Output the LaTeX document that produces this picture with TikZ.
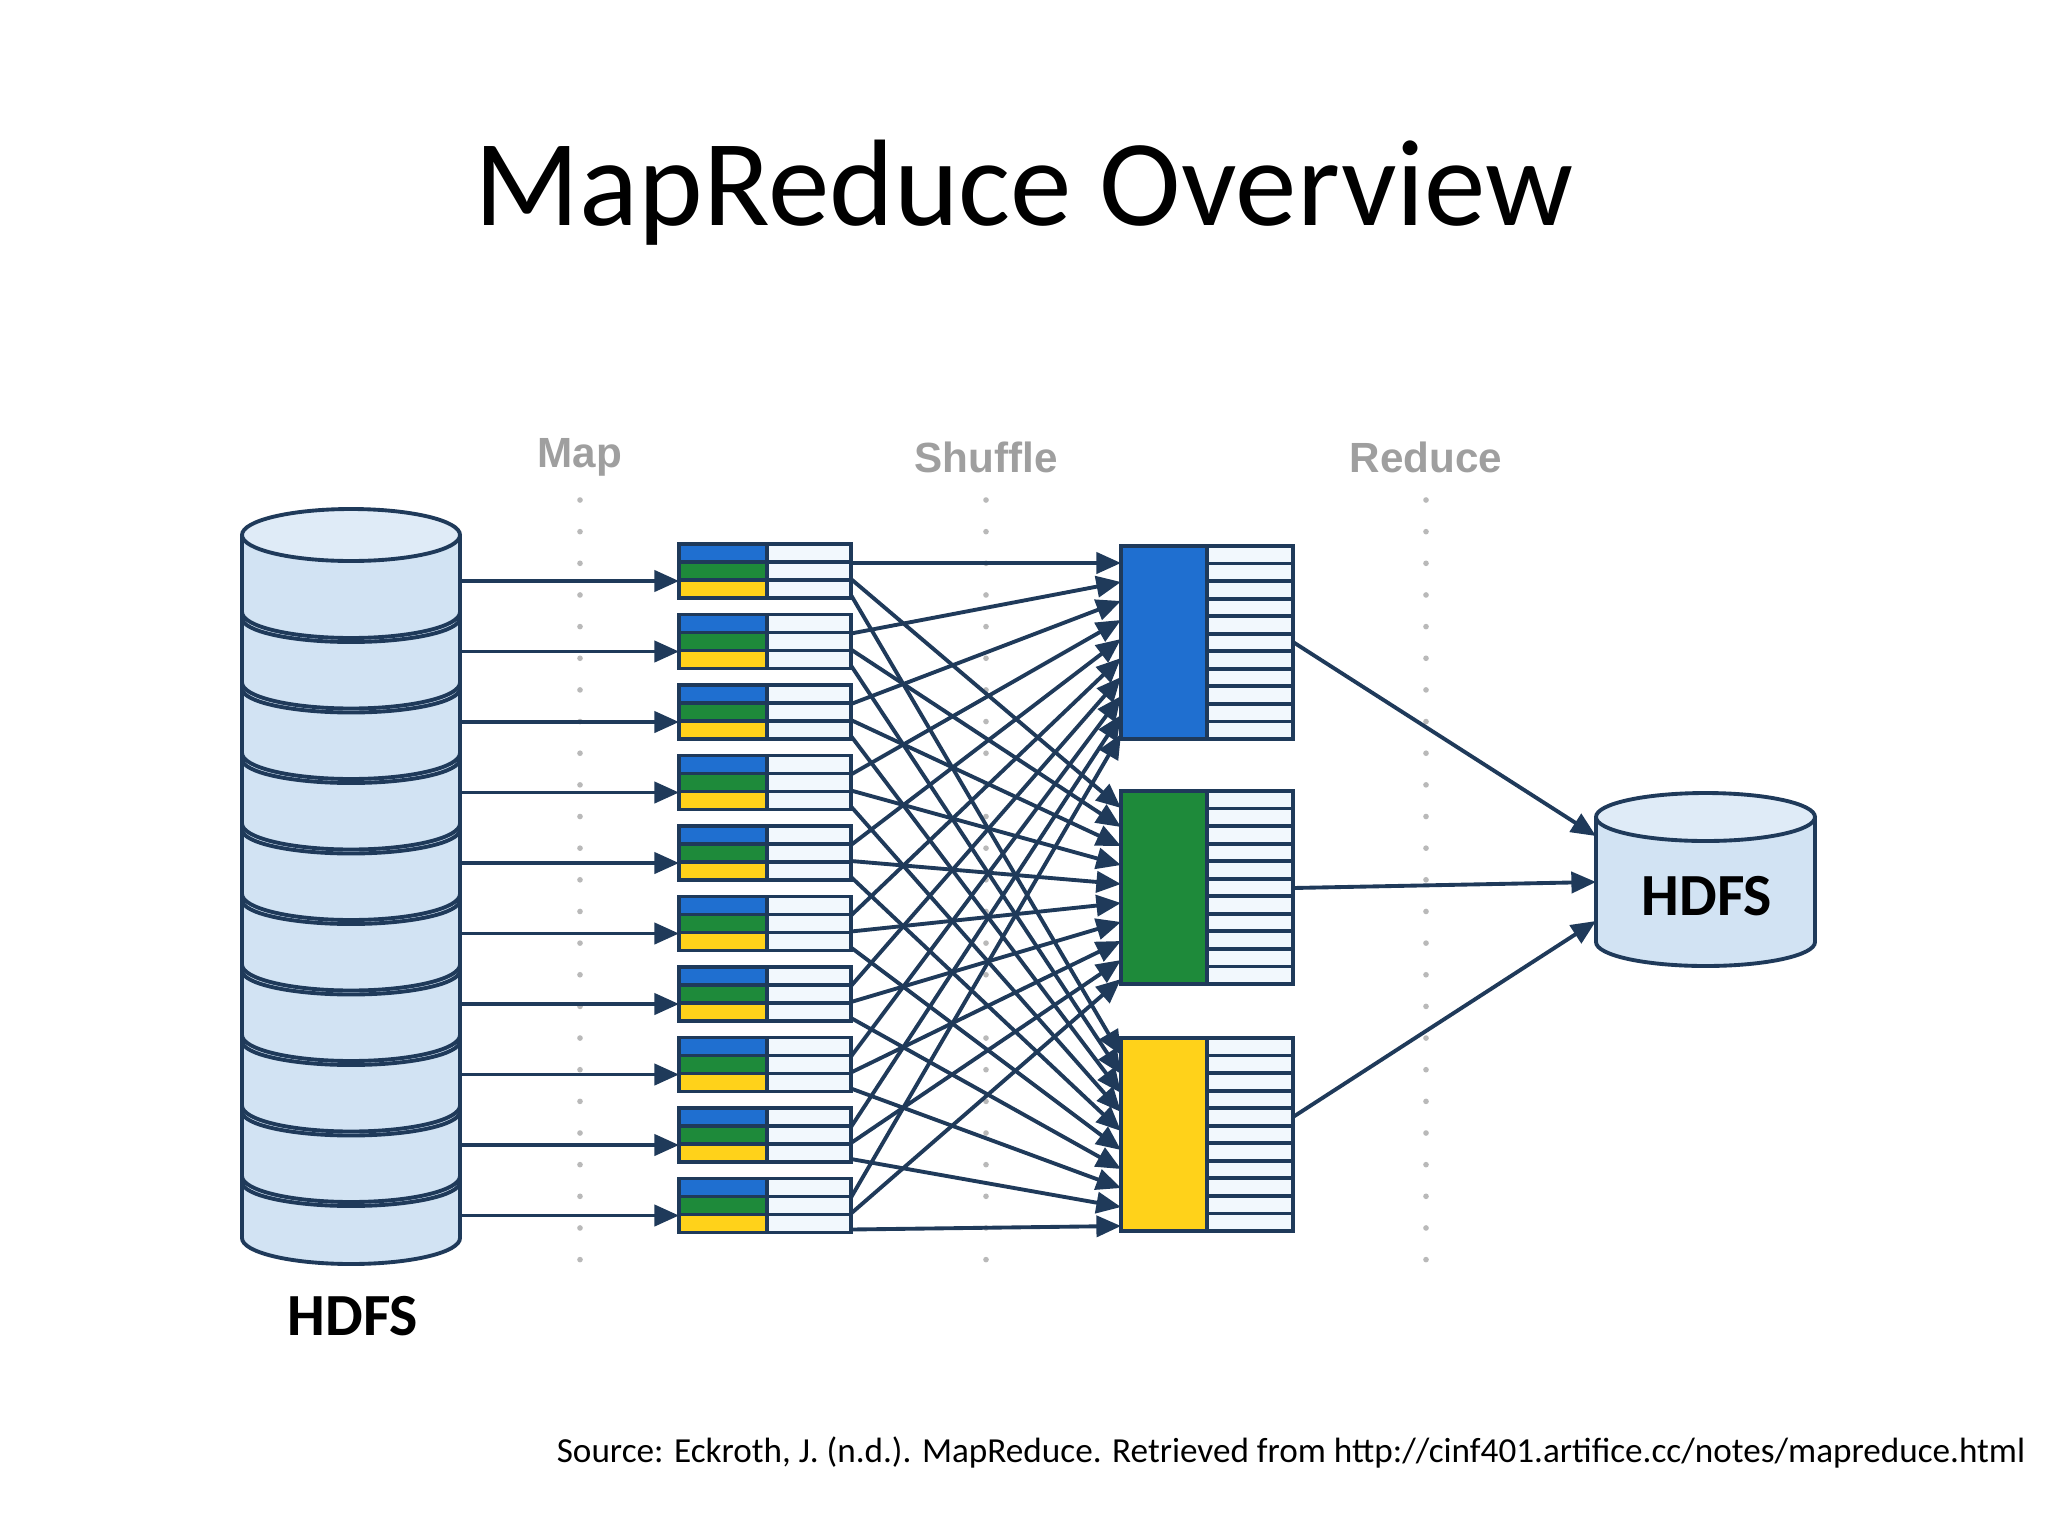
\documentclass[tikz,border=0pt]{standalone}
\usepackage{fontspec}
\setmainfont{Carlito}
\newfontfamily\labfont{Liberation Sans}
\usetikzlibrary{arrows.meta}
\definecolor{dk}{HTML}{1F3A5A}
\definecolor{cyl}{HTML}{D2E3F3}
\definecolor{cb}{HTML}{1F6FD0}
\definecolor{cg}{HTML}{1E8A3A}
\definecolor{cy}{HTML}{FFD21A}
\definecolor{wh}{HTML}{F2F8FD}
\begin{document}
\begin{tikzpicture}[x=0.01cm,y=-0.01cm,
  ln/.style={draw=dk,line width=1.1pt},
  arr/.style={ln,-{Triangle[length=7pt,width=6pt]}},
  phase/.style={font=\labfont\bfseries\fontsize{12}{14}\selectfont,text=gray!75},
  dots/.style={gray!55,line width=1.6pt,dash pattern=on 0pt off 9pt,line cap=round},
  hd/.style={font=\bfseries\fontsize{17}{20}\selectfont}]
\useasboundingbox[fill=white] (0,0) rectangle (2048,1536);
\node[font=\fontsize{35}{42}\selectfont] (title) at (1024,193) {MapReduce Overview};
% phases
\node[phase] (pm) at (580,457) {Map};
\node[phase] (ps) at (986,457) {Shuffle};
\node[phase] (pr) at (1426,457) {Reduce};
\foreach \x in {580,986,1426}{\draw[dots] (\x,500) -- (\x,1267);}
% left cylinder
\draw[ln,fill=cyl] (242,535) -- (242,1238) arc[start angle=180,end angle=0,x radius=109,y radius=26] -- (460,535);
\draw[ln,fill=cyl!70!white] (351,535) ellipse[x radius=109,y radius=26];
\foreach \j in {0,...,8}{
  \pgfmathsetmacro{\yy}{612+70.5*\j}
  \draw[ln] (242,\yy) arc[start angle=180,end angle=0,x radius=109,y radius=26];
  \draw[ln] (242,\yy+6) arc[start angle=180,end angle=0,x radius=109,y radius=24];
}
\node[hd] (hl) at (353,1316) {HDFS};
% map blocks
\foreach \i in {0,...,9}{
  \pgfmathsetmacro{\t}{544+70.5*\i}
  \coordinate (c\i) at (460,\t+37);
  \coordinate (m\i) at (679,\t+37);
  \draw[arr] (c\i) -- (m\i);
  \fill[cb] (679,\t) rectangle (767,\t+18);
  \fill[cg] (679,\t+18) rectangle (767,\t+36);
  \fill[cy] (679,\t+36) rectangle (767,\t+54);
  \fill[wh] (767,\t) rectangle (851,\t+54);
  \draw[ln] (679,\t) rectangle (851,\t+54);
  \draw[ln] (767,\t) -- (767,\t+54);
  \draw[ln] (679,\t+18) -- (851,\t+18);
  \draw[ln] (679,\t+36) -- (851,\t+36);
}
% reducers
\foreach \r/\t/\c in {0/546/cb,1/791/cg,2/1038/cy}{
  \fill[\c] (1121,\t) rectangle (1207,\t+193);
  \fill[wh] (1207,\t) rectangle (1293,\t+193);
  \foreach \k in {1,...,10}{\draw[ln] (1207,\t+17.545*\k) -- (1293,\t+17.545*\k);}
  \draw[ln] (1121,\t) rectangle (1293,\t+193);
  \draw[ln] (1207,\t) -- (1207,\t+193);
}
% shuffle
\foreach \i in {0,...,9}{
  \foreach \r/\rt in {0/546,1/791,2/1038}{
    \pgfmathsetmacro{\sy}{544+70.5*\i+19+16*\r}
    \pgfmathsetmacro{\ey}{\rt+17+19*\i}
    \coordinate (s\i\r) at (851,\sy);
    \coordinate (e\i\r) at (1121,\ey);
    \draw[arr] (s\i\r) -- (e\i\r);
  }
}
% right cylinder
\draw[ln,fill=cyl] (1596,817) -- (1596,942) arc[start angle=180,end angle=0,x radius=109.5,y radius=24] -- (1815,817);
\draw[ln,fill=cyl!70!white] (1705.5,817) ellipse[x radius=109.5,y radius=24];
\node[hd] (hr) at (1707,896) {HDFS};
\coordinate (o0) at (1293,642); \coordinate (i0) at (1596,836);
\coordinate (o1) at (1293,888); \coordinate (i1) at (1596,882);
\coordinate (o2) at (1293,1117); \coordinate (i2) at (1596,921);
\foreach \n in {0,1,2}{\draw[arr] (o\n) -- (i\n);}
\node[anchor=east,font=\fontsize{10}{12}\selectfont,inner sep=0pt] (src) at (2026,1452) {Source: Eckroth, J. (n.d.). MapReduce. Retrieved from http://cinf401.artifice.cc/notes/mapreduce.html};
\end{tikzpicture}
\end{document}
